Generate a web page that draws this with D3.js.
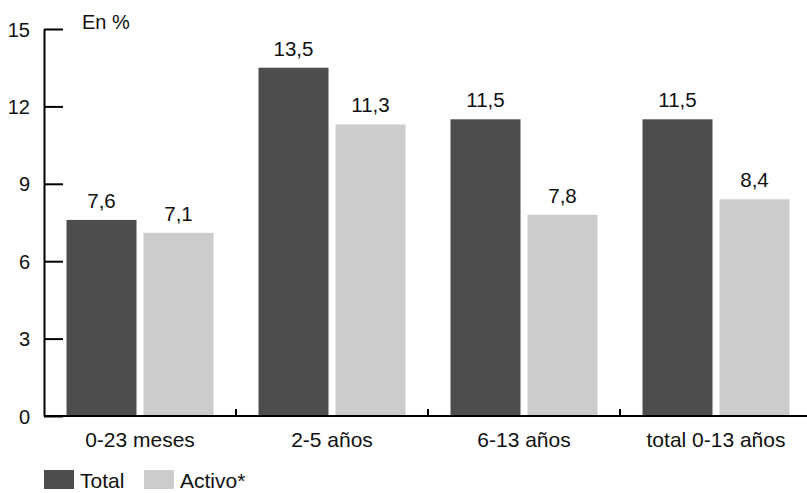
<!DOCTYPE html>
<html>
<head>
<meta charset="utf-8">
<script src="https://cdn.jsdelivr.net/npm/d3@7"></script>
<style>
  html, body { margin: 0; padding: 0; background: #fff; }
  svg text { font-family: "Liberation Sans", Arial, sans-serif; fill: #111; }
</style>
</head>
<body>
<svg id="chart" width="807" height="493"></svg>
<script>
// Categories and series
const categories = ["0-23 meses", "2-5 años", "6-13 años", "total 0-13 años"];
const seriesNames = ["Total", "Activo*"];
const totalValues = [7.6, 13.5, 11.5, 11.5];
const activoValues = [7.1, 11.3, 7.8, 8.4];
const yTicks = [0, 3, 6, 9, 12, 15];
const seriesColors = ["#4d4d4d", "#cccccc"];

const rows = categories.map((c, i) => ({
  category: c,
  values: [
    { key: seriesNames[0], value: totalValues[i] },
    { key: seriesNames[1], value: activoValues[i] }
  ]
}));

const svg = d3.select("#chart");
const labelSize = 21;

const x0 = d3.scaleBand().domain(categories).range([44, 812]).padding(0);
const x1 = d3.scaleBand().domain(seriesNames)
  .range([22.5, x0.bandwidth() - 22.5])
  .paddingInner(7 / 77).paddingOuter(0);
const y = d3.scaleLinear().domain([0, 15]).range([416, 29]);
const color = d3.scaleOrdinal().domain(seriesNames).range(seriesColors);

// Bars
const groups = svg.append("g").selectAll("g")
  .data(rows).join("g")
  .attr("transform", d => `translate(${x0(d.category)},0)`);

groups.selectAll("rect")
  .data(d => d.values).join("rect")
  .attr("x", d => x1(d.key))
  .attr("y", d => y(d.value))
  .attr("width", x1.bandwidth())
  .attr("height", d => y(0) - y(d.value))
  .attr("fill", d => color(d.key));

// Value labels
groups.selectAll("text.val")
  .data(d => d.values).join("text")
  .attr("class", "val")
  .attr("x", d => x1(d.key) + x1.bandwidth() / 2)
  .attr("y", d => y(d.value) - 12)
  .attr("text-anchor", "middle")
  .style("font-size", "20.5px")
  .text(d => d3.format(".1f")(d.value).replace(".", ","));

// Y axis: inner ticks on the right side of the line
const yAxis = svg.append("g")
  .attr("transform", "translate(44,0)")
  .call(d3.axisRight(y).tickValues(yTicks).tickSize(19).tickSizeOuter(0).tickFormat(d3.format("d")));
yAxis.select(".domain").attr("stroke", "#000").attr("stroke-width", 2);
yAxis.selectAll(".tick line").attr("stroke", "#000").attr("stroke-width", 2);
yAxis.selectAll(".tick text")
  .attr("x", -14).attr("dy", "0.35em")
  .attr("text-anchor", "end")
  .attr("fill", "#111")
  .style("font-size", "20px")
  .style("font-family", "'Liberation Sans', Arial, sans-serif");

svg.append("text")
  .attr("x", 82).attr("y", 29)
  .style("font-size", "20px")
  .text("En %");

// X axis baseline with short upward ticks between groups
const xAxis = svg.append("g").attr("transform", `translate(0,${y(0)})`);
xAxis.append("line")
  .attr("x1", 44).attr("x2", 807)
  .attr("stroke", "#000").attr("stroke-width", 2);
xAxis.selectAll("line.sep")
  .data(categories.slice(1)).join("line")
  .attr("class", "sep")
  .attr("x1", d => x0(d)).attr("x2", d => x0(d))
  .attr("y1", 0).attr("y2", -7)
  .attr("stroke", "#000").attr("stroke-width", 2);
xAxis.selectAll("text")
  .data(categories).join("text")
  .attr("x", d => x0(d) + x0.bandwidth() / 2)
  .attr("y", 31)
  .attr("text-anchor", "middle")
  .style("font-size", labelSize + "px")
  .text(d => d);

// Legend
const legendX = [44, 144];
const legend = svg.append("g").selectAll("g")
  .data(seriesNames).join("g")
  .attr("transform", (d, i) => `translate(${legendX[i]},470)`);
legend.append("rect")
  .attr("width", 30).attr("height", 19)
  .attr("fill", d => color(d));
legend.append("text")
  .attr("x", 36).attr("y", 18)
  .style("font-size", labelSize + "px")
  .text(d => d);
</script>
</body>
</html>
